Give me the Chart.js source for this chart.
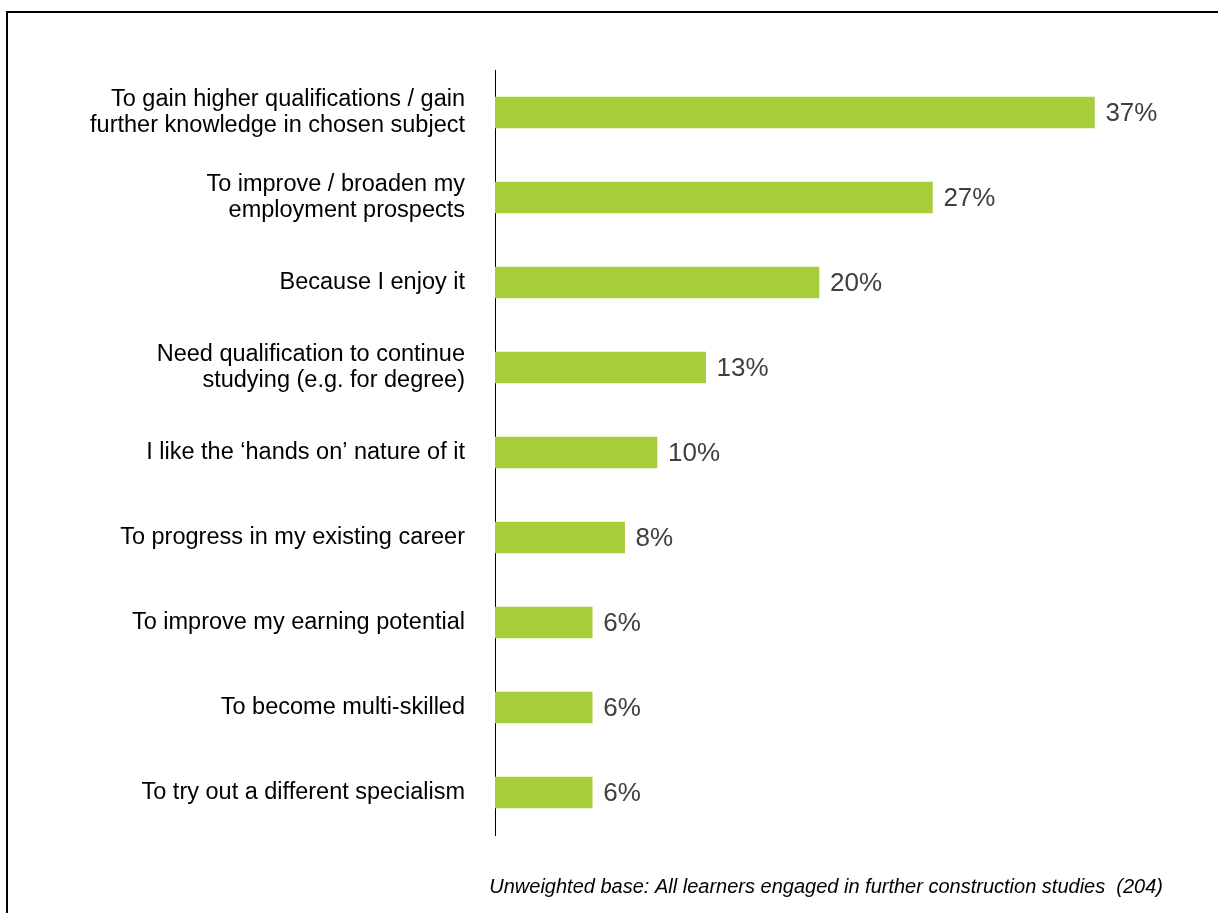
<!DOCTYPE html>
<html>
<head>
<meta charset="utf-8">
<script src="https://cdn.jsdelivr.net/npm/chart.js@4.4.1/dist/chart.umd.min.js"></script>
<style>
  html, body { margin: 0; padding: 0; background: #ffffff; }
  #wrap { position: relative; width: 1218px; height: 913px; }
  canvas { display: block; }
</style>
</head>
<body>
<div id="wrap"><canvas id="chart" width="1218" height="913"></canvas></div>
<script>
// Reasons for engaging in further construction studies (% of learners)
const categories = [
  ["To gain higher qualifications / gain", "further knowledge in chosen subject"],
  ["To improve / broaden my", "employment prospects"],
  "Because I enjoy it",
  ["Need qualification to continue", "studying (e.g. for degree)"],
  "I like the \u2018hands on\u2019 nature of it",
  "To progress in my existing career",
  "To improve my earning potential",
  "To become multi-skilled",
  "To try out a different specialism"
];
const percentages = [37, 27, 20, 13, 10, 8, 6, 6, 6];
const baseNote = "Unweighted base: All learners engaged in further construction studies  (204)";

const barGreen = "#A6CE39";
const FONT = "'Liberation Sans', Arial, sans-serif";

// Outer frame (top and left edges) plus the base note
const framePlugin = {
  id: "frame",
  afterDraw(chart) {
    const ctx = chart.ctx;
    ctx.save();
    ctx.strokeStyle = "#000000";
    ctx.lineWidth = 2;
    ctx.beginPath();
    ctx.moveTo(1218, 12);
    ctx.lineTo(7, 12);
    ctx.lineTo(7, 913);
    ctx.stroke();
    ctx.fillStyle = "#000000";
    ctx.font = "italic 20px " + FONT;
    ctx.textAlign = "right";
    ctx.textBaseline = "alphabetic";
    ctx.fillText(baseNote, 1163, 893);
    ctx.restore();
  }
};

// Percentage label at the end of each bar
const valueLabels = {
  id: "valueLabels",
  afterDatasetsDraw(chart) {
    const ctx = chart.ctx;
    const meta = chart.getDatasetMeta(0);
    ctx.save();
    ctx.fillStyle = "#404040";
    ctx.font = "26px " + FONT;
    ctx.textAlign = "left";
    ctx.textBaseline = "middle";
    meta.data.forEach((bar, i) => {
      ctx.fillText(percentages[i] + "%", bar.x + 11, bar.y + 1);
    });
    ctx.restore();
  }
};

new Chart(document.getElementById("chart"), {
  type: "bar",
  data: {
    labels: categories,
    datasets: [{
      data: percentages,
      backgroundColor: barGreen,
      borderWidth: 0,
      barThickness: 31
    }]
  },
  options: {
    indexAxis: "y",
    responsive: false,
    animation: false,
    devicePixelRatio: 1,
    layout: { padding: { left: 0, right: 75, top: 70, bottom: 78 } },
    plugins: {
      legend: { display: false },
      tooltip: { enabled: false }
    },
    scales: {
      x: {
        display: false,
        min: 0,
        max: 40
      },
      y: {
        afterFit(scale) { scale.width = 495; },
        grid: { display: false, drawTicks: false },
        border: { display: true, color: "#000000", width: 1 },
        ticks: {
          color: "#000000",
          padding: 30,
          font: { family: FONT, size: 23.5, lineHeight: 1.12 }
        }
      }
    }
  },
  plugins: [framePlugin, valueLabels]
});
</script>
</body>
</html>
